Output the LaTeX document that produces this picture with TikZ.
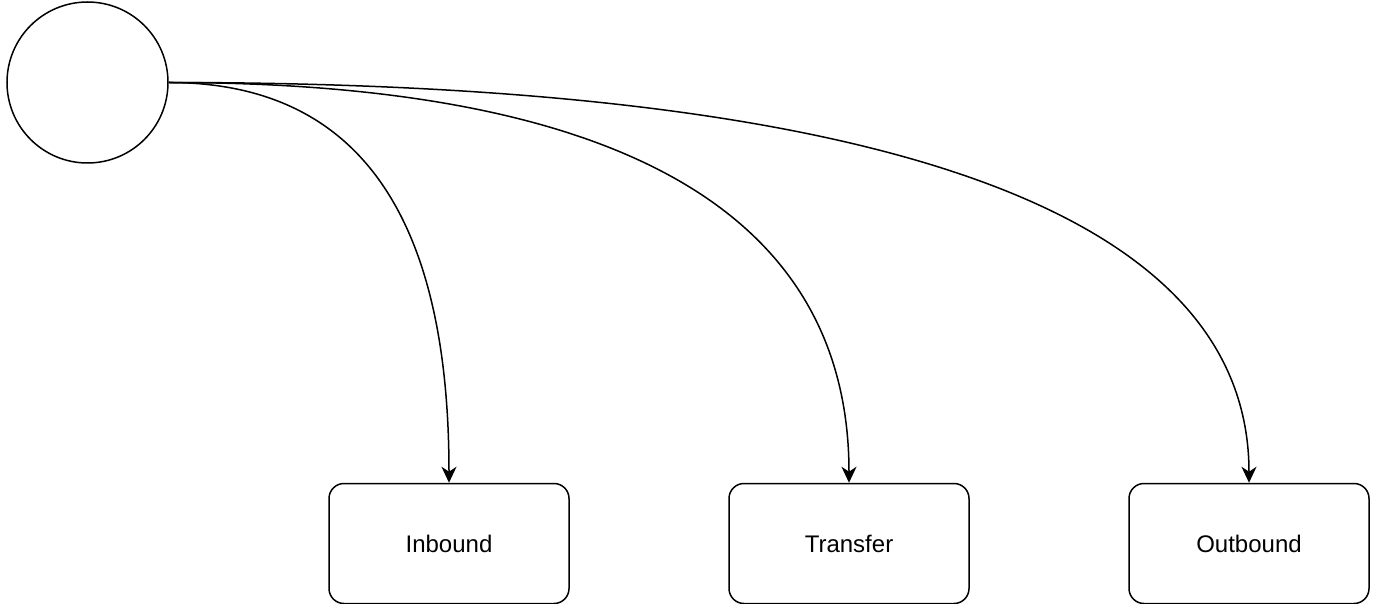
\documentclass[tikz,border=0pt]{standalone}
\usepackage{fontspec}
\setmainfont{Liberation Sans}
\usetikzlibrary{arrows.meta}
\begin{document}
\begin{tikzpicture}[x=1pt,y=-1pt,
  box/.style={draw, line width=1.5pt, rounded corners=15pt, minimum width=240pt, minimum height=120pt, inner sep=0pt, font=\fontsize{24}{28}\selectfont},
  circ/.style={draw, line width=1.5pt, circle, minimum size=161pt, inner sep=0pt},
  conn/.style={line width=1.5pt, -{Stealth[length=16pt,width=15pt,inset=5pt]}}
]
\useasboundingbox (0,0) rectangle (1378,604);
\node[circ] (c) at (87.5,82.5) {};
\node[box] (in) at (449,543.5) {Inbound};
\node[box] (tr) at (849,543.5) {Transfer};
\node[box] (out) at (1249,543.5) {Outbound};
\draw[conn] (c.east) .. controls +(211,0) and +(0,-235) .. (in.north);
\draw[conn] (c.east) .. controls +(500,0) and +(0,-240) .. (tr.north);
\draw[conn] (c.east) .. controls +(730,0) and +(0,-265) .. (out.north);
\end{tikzpicture}
\end{document}
